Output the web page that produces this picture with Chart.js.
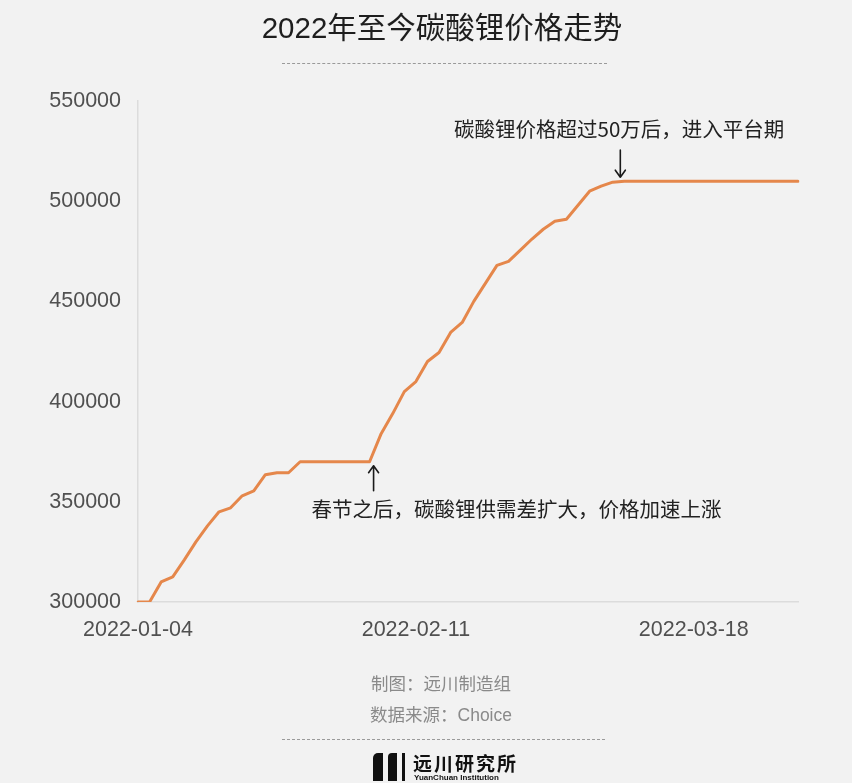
<!DOCTYPE html>
<html>
<head>
<meta charset="utf-8">
<script src="https://cdn.jsdelivr.net/npm/chart.js@4/dist/chart.umd.min.js"></script>
<style>
html,body{margin:0;padding:0;background:#f2f2f2;}
#wrap{position:relative;width:852px;height:783px;overflow:hidden;background:#f2f2f2;font-family:"Liberation Sans","Noto Sans CJK SC",sans-serif;}
#c{position:absolute;left:0;top:0;}
.t{position:absolute;white-space:nowrap;transform:translateX(-50%);}
.dash{position:absolute;height:0;border-top:1px dashed #9a9a9a;}
.bar{position:absolute;background:#111;}
</style>
</head>
<body>
<div id="wrap">
<canvas id="c" width="852" height="783"></canvas>
<div class="t" style="left:442px;top:4px;font-size:29.5px;color:#1e1e1e;">2022年至今碳酸锂价格走势</div>
<div class="dash" style="left:282px;top:63px;width:325px;"></div>
<div class="t" style="left:441px;top:670px;font-size:17.5px;color:#8a8a8a;">制图：远川制造组</div>
<div class="t" style="left:441px;top:701px;font-size:17.5px;color:#8a8a8a;">数据来源：Choice</div>
<div class="dash" style="left:282px;top:739px;width:323px;"></div>
<div class="bar" style="left:373px;top:753px;width:10px;height:28px;border-radius:5px 0 0 0;"></div>
<div class="bar" style="left:388px;top:753px;width:9px;height:28px;border-radius:4px 0 0 0;"></div>
<div class="bar" style="left:402px;top:753px;width:3px;height:28px;"></div>
<div style="position:absolute;left:413px;top:752px;font-size:19px;font-weight:bold;color:#111;letter-spacing:2px;font-family:'Noto Sans CJK SC';line-height:22px;">远川研究所</div>
<div style="position:absolute;left:414px;top:773px;font-size:8px;font-weight:bold;color:#111;line-height:9px;font-family:'Liberation Sans';">YuanChuan Institution</div>
</div>
<script>
// ---- data ----
const dates = [
  '2022-01-04','2022-01-05','2022-01-06','2022-01-07','2022-01-10','2022-01-11','2022-01-12','2022-01-13','2022-01-14',
  '2022-01-17','2022-01-18','2022-01-19','2022-01-20','2022-01-21','2022-01-24','2022-01-25','2022-01-26','2022-01-27',
  '2022-01-28','2022-01-29','2022-02-07','2022-02-08','2022-02-09','2022-02-10','2022-02-11','2022-02-15','2022-02-16',
  '2022-02-17','2022-02-18','2022-02-21','2022-02-22','2022-02-23','2022-02-24','2022-02-25','2022-02-28','2022-03-01',
  '2022-03-02','2022-03-03','2022-03-04','2022-03-07','2022-03-08','2022-03-09','2022-03-10','2022-03-11','2022-03-14',
  '2022-03-15','2022-03-16','2022-03-17','2022-03-18','2022-03-21','2022-03-22','2022-03-23','2022-03-24','2022-03-25',
  '2022-03-28','2022-03-29','2022-03-30','2022-03-31'
];
const prices = [
  300000,300000,310000,312500,321000,330000,338000,345000,347000,
  353000,355500,363500,364500,364500,370000,370000,370000,370000,
  370000,370000,370000,384000,394000,405000,410000,420000,424500,
  434500,439500,450000,459000,468000,470000,475500,481000,486000,
  490000,491000,498000,505000,507500,509500,510000,510000,510000,
  510000,510000,510000,510000,510000,510000,510000,510000,510000,
  510000,510000,510000,510000
];
const yTickValues = [300000,350000,400000,450000,500000,550000];
const xTickLabels = ['2022-01-04','2022-02-11','2022-03-18'];
const noteRise = { date: '2022-02-07', text: '春节之后，碳酸锂供需差扩大，价格加速上涨' };
const notePlateau = { date: '2022-03-10', text: '碳酸锂价格超过50万后，进入平台期' };

// ---- annotation plugin (anchored to data points) ----
function arrow(ctx, x, y1, y2) {
  const dir = y2 > y1 ? 1 : -1;
  ctx.beginPath();
  ctx.moveTo(x, y1); ctx.lineTo(x, y2);
  ctx.moveTo(x - 5, y2 - dir * 7); ctx.lineTo(x, y2); ctx.lineTo(x + 5, y2 - dir * 7);
  ctx.stroke();
}
const notesPlugin = {
  id: 'notes',
  afterDatasetsDraw(chart) {
    const ctx = chart.ctx, xs = chart.scales.x, ys = chart.scales.y;
    ctx.save();
    ctx.strokeStyle = '#1a1a1a'; ctx.lineWidth = 1.6; ctx.lineCap = 'round'; ctx.lineJoin = 'round';
    ctx.fillStyle = '#222';
    ctx.font = '20.5px "Noto Sans CJK SC"';
    ctx.textBaseline = 'middle';
    // rise note
    let i = dates.indexOf(noteRise.date);
    let x = xs.getPixelForValue(i) + 4, y = ys.getPixelForValue(prices[i]);
    arrow(ctx, x, y + 29, y + 4);
    ctx.textAlign = 'left';
    ctx.fillText(noteRise.text, x - 62, y + 47);
    // plateau note
    i = dates.indexOf(notePlateau.date);
    x = xs.getPixelForValue(i) - 4; y = ys.getPixelForValue(prices[i]);
    arrow(ctx, x, y - 31, y - 4);
    ctx.textAlign = 'right';
    ctx.fillText(notePlateau.text, x + 164, y - 52);
    ctx.restore();
  }
};

new Chart(document.getElementById('c'), {
  type: 'line',
  data: {
    labels: dates,
    datasets: [{
      data: prices,
      borderColor: '#E5874B',
      borderWidth: 3,
      pointRadius: 0,
      tension: 0,
      fill: false,
      borderJoinStyle: 'round',
      borderCapStyle: 'round'
    }]
  },
  options: {
    responsive: false,
    animation: false,
    devicePixelRatio: 1,
    layout: { padding: { top: 101, right: 54, bottom: 0, left: 0 } },
    plugins: { legend: { display: false }, tooltip: { enabled: false }, title: { display: false } },
    scales: {
      x: {
        type: 'category',
        offset: false,
        grid: { display: false, drawTicks: false },
        border: { display: true, color: '#dcdcdc', width: 1.5 },
        ticks: {
          autoSkip: false, maxRotation: 0, minRotation: 0, padding: 15,
          color: '#505050', font: { family: 'Liberation Sans', size: 21.5 },
          callback: (v, idx) => xTickLabels.includes(dates[idx]) ? dates[idx] : null
        },
        afterFit: s => { s.height = 181; }
      },
      y: {
        min: 300000, max: 550000,
        grid: { display: false, drawTicks: false },
        border: { display: true, color: '#dcdcdc', width: 1.5 },
        afterBuildTicks: s => { s.ticks = yTickValues.map(v => ({ value: v })); },
        ticks: {
          padding: 17, color: '#505050', font: { family: 'Liberation Sans', size: 21.5 },
          callback: v => String(v)
        },
        afterFit: s => { s.width = 138; }
      }
    }
  },
  plugins: [notesPlugin]
});
</script>
</body>
</html>
